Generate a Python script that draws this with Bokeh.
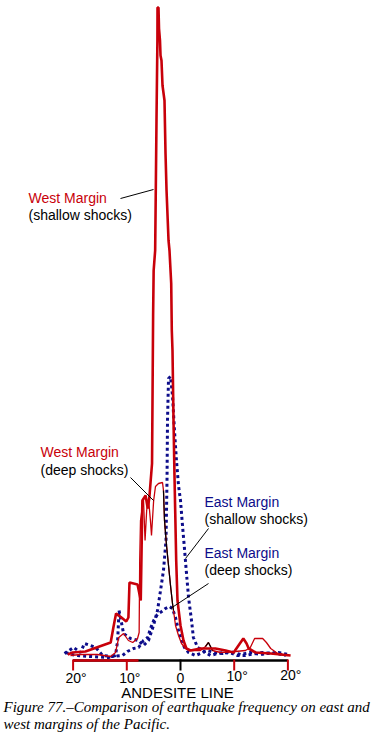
from bokeh.plotting import figure
from bokeh.models import Range1d
from bokeh.core.properties import value
from bokeh.embed import file_html
from bokeh.resources import INLINE
import numpy as np

# ---- data (degrees from andesite line: west negative, east positive; relative frequency) ----
ws_deg = [-21.0, -20.1, -17.7, -15.1, -13.0, -12.5, -12.0, -11.0, -10.1, -9.7, -9.5, -8.0, -7.4, -7.1,
          -6.5, -6.1, -5.8, -5.3, -5.2, -5.1, -5.0, -4.72, -4.65, -4.47, -4.3, -4.28, -4.1, -4.0, -3.82,
          -3.72, -3.54, -3.35, -2.98, -2.79, -2.6, -2.23, -2.05, -1.73, -1.62, -1.49, -1.3, -1.12, -0.8,
          -0.56, 0.0, 0.56, 1.1, 1.86, 3.7, 6.5, 8.4, 9.9, 10.8, 11.7, 12.3, 12.7, 14.0, 16.8, 20.5]
ws_val = [3, 5, 6, 11, 15, 30, 44, 40, 36, 40, 75, 73, 57, 157,
          162, 149, 160, 194, 267, 342, 387, 407, 442, 537, 617, 650, 650, 629, 617,
          602, 597, 572, 557, 504, 467, 417, 407, 374, 327, 307, 237, 182, 97,
          57, 32, 17, 9, 7, 9, 9, 7, 5, 12, 19, 14, 9, 5, 4, 2]

wd_deg = [-20.5, -18.6, -15.5, -13.0, -12.1, -11.5, -10.6, -9.7, -8.9, -8.0, -7.7, -7.6, -7.45, -7.2,
          -6.9, -6.6, -6.3, -5.96, -5.6, -5.4, -5.0, -4.66, -4.1, -3.35, -3.17, -2.98, -2.6, -2.23,
          -1.86, -1.49, -1.3, -0.93, -0.37, 0.19, 0.93, 1.86, 3.7, 4.66, 5.2, 5.96, 7.45, 10.2, 12.1,
          13.0, 13.8, 15.3, 16.0, 16.8, 18.1, 19.9]
wd_val = [2, 3, 3, 1, 5, 20, 24, 17, 15, 19, 25, 97, 137, 147,
          159, 117, 147, 159, 137, 122, 157, 171, 174, 175, 167, 137, 112, 92,
          72, 54, 47, 32, 22, 14, 9, 7, 7, 11, 15, 7, 5, 6, 7,
          10, 19, 19, 15, 9, 4, 2]

es_deg = [-21.4, -19.6, -16.8, -13.4, -12.1, -11.7, -11.45, -11.0, -10.6, -9.3, -7.8, -6.9, -5.96,
          -5.03, -4.28, -3.72, -3.17, -2.7, -2.51, -2.42, -2.23, -1.86, -1.49, -1.12, -0.75, -0.37,
          0.0, 0.37, 0.74, 1.1, 1.5, 2.05, 2.4, 3.2, 4.65, 5.6, 6.9, 8.0, 9.7, 10.6, 12.1, 14.0,
          15.3, 16.8, 18.2, 20.1]
es_val = [5, 2, 1, 0, 2, 17, 47, 35, 24, 19, 17, 12, 17,
          32, 47, 67, 87, 117, 177, 237, 279, 281, 262, 227, 197, 172,
          157, 132, 109, 85, 60, 37, 20, 10, 5, 2, 4, 5, 4, 2, 2, 4,
          5, 4, 5, 3]

ed_deg = [-21.6, -19.9, -18.6, -17.9, -16.8, -15.8, -15.3, -14.5, -12.7, -10.8, -9.9, -8.75, -7.8,
          -6.9, -6.1, -5.6, -5.0, -4.3, -3.5, -2.8, -2.05, -1.5, -0.93, -0.37, 0.19, 0.74, 1.5, 2.8,
          3.7, 5.0, 6.3, 7.8, 9.3, 11.2, 13.0, 14.9, 17.1, 19.6]
ed_val = [4, 10, 5, 14, 12, 10, 7, 2, 1, 2, 6, 9, 10,
          17, 20, 29, 37, 43, 46, 49, 51, 49, 40, 27, 17, 10, 5, 2,
          4, 7, 5, 4, 6, 3, 5, 3, 5, 2]

tick_deg = [-20, -10, 0, 10, 20]
tick_labels = ["20°", "10°", "0", "10°", "20°"]
tick_colors = ["#c8000a", "#c8000a", "#000000", "#c8000a", "#c8000a"]

RED = "#c8000a"
BLUE = "#0c0c8a"
SANS = "Liberation Sans"

# ---- page geometry: frame = whole canvas ----
W, H = 377, 733
PXD = 5.37          # pixels per degree
X0 = 180.0          # pixel of the andesite line
Y0 = 657.0          # pixel of zero frequency


def X(px):
    return (px - X0) / PXD


def Y(py):
    return Y0 - py


p = figure(width=W, height=H, output_backend="svg", toolbar_location=None,
           x_range=Range1d(X(0), X(W)), y_range=Range1d(Y(H), Y(0)),
           min_border=0, min_border_left=0, min_border_right=0,
           min_border_top=0, min_border_bottom=0)
p.axis.visible = False
p.grid.visible = False
p.outline_line_color = None
p.background_fill_color = "white"
p.border_fill_color = "white"

# ---- axis ----
p.segment(x0=[tick_deg[0]], y0=[Y(660)], x1=[tick_deg[-1]], y1=[Y(660)], line_color="black", line_width=2.5)
p.segment(x0=[tick_deg[0]], y0=[Y(660)], x1=[X(138)], y1=[Y(660)], line_color=RED, line_width=2.5)
p.segment(x0=tick_deg, y0=[Y(659)] * 5, x1=tick_deg, y1=[Y(670)] * 5, line_color=tick_colors, line_width=2)

# ---- series ----
p.line(ed_deg, ed_val, line_color=BLUE, line_width=3, line_dash="3 3")
p.line(es_deg, es_val, line_color=BLUE, line_width=3, line_dash="3 3")
p.line(wd_deg, wd_val, line_color=RED, line_width=1.3)
wdx = np.array(wd_deg)
wdv = np.array(wd_val)
for lo, hi in [(-3.17, -1.3), (4.66, 5.96)]:
    m = (wdx >= lo) & (wdx <= hi)
    p.line(wdx[m], wdv[m], line_color="black", line_width=1.2)
p.line(ws_deg, ws_val, line_color=RED, line_width=2.6)

# ---- labels ----
def label(px, py, txt, color="black", size="14px", align="left", font=SANS, style="normal"):
    p.text(x=[X(px)], y=[Y(py)], text=[txt], text_color=color, text_font_size=size,
           text_align=align, text_baseline="middle", text_font=value(font), text_font_style=style)

label(28, 197, "West Margin", RED)
label(28, 214, "(shallow shocks)")
label(40, 451, "West Margin", RED)
label(40, 469, "(deep shocks)")
label(204, 501, "East Margin", BLUE)
label(204, 518, "(shallow shocks)")
label(204, 552, "East Margin", BLUE)
label(204, 569, "(deep shocks)")

# pointer lines
p.segment(x0=[X(120), X(130), X(208), X(208)], y0=[Y(198), Y(477), Y(528), Y(583)],
          x1=[X(153), X(153), X(185), X(170)], y1=[Y(189), Y(500), Y(558), Y(608)],
          line_color="black", line_width=1)

# tick labels
p.text(x=[t + (0.55 if lab != "0" else 0) for t, lab in zip(tick_deg, tick_labels)],
       y=[Y(677), Y(677), Y(677), Y(675), Y(674)], text=tick_labels,
       text_font_size="14px", text_align="center", text_baseline="middle",
       text_font=value(SANS), text_color="black")
label(177, 692, "ANDESITE LINE", size="15px", align="center")

# caption
label(3, 706, "Figure 77.\u2013Comparison of earthquake frequency on east and", size="15px",
      font="Liberation Serif", style="italic")
label(3, 723, "west margins of the Pacific.", size="15px", font="Liberation Serif", style="italic")

open("out.html", "w").write(file_html(p, INLINE))
